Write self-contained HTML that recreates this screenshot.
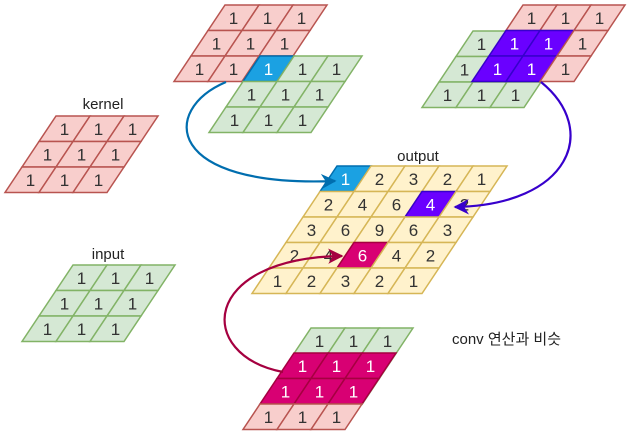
<!DOCTYPE html>
<html><head><meta charset="utf-8"><style>
html,body{margin:0;padding:0;background:#fff;}
svg{display:block;font-family:"Liberation Sans","Noto Sans CJK KR",sans-serif;}
</style></head><body>
<svg id="s" width="632" height="437" viewBox="0 0 632 437">
<defs>
<marker id="ab" viewBox="0 0 10 10" refX="9" refY="5" markerWidth="7" markerHeight="7" orient="auto"><path d="M0,0 L10,5 L0,10 L3,5 z" fill="#006EAF"/></marker>
<marker id="ap" viewBox="0 0 10 10" refX="9" refY="5" markerWidth="7" markerHeight="7" orient="auto"><path d="M0,0 L10,5 L0,10 L3,5 z" fill="#3700CC"/></marker>
<marker id="am" viewBox="0 0 10 10" refX="9" refY="5" markerWidth="7" markerHeight="7" orient="auto"><path d="M0,0 L10,5 L0,10 L3,5 z" fill="#A50040"/></marker>
</defs>
<g id="grids"></g>
<path d="M226,82 C160,110 165,188 335,181" fill="none" stroke="#006EAF" stroke-width="2.2" marker-end="url(#ab)"/>
<path d="M541,82 C600,130 570,205 455,207" fill="none" stroke="#3700CC" stroke-width="2.2" marker-end="url(#ap)"/>
<path d="M283,372 C195,355 200,258 342,256" fill="none" stroke="#A50040" stroke-width="2.2" marker-end="url(#am)"/>
<text x="103" y="109" font-size="15" text-anchor="middle" fill="#222">kernel</text>
<text x="108" y="259" font-size="15" text-anchor="middle" fill="#222">input</text>
<text x="418" y="161" font-size="15" text-anchor="middle" fill="#222">output</text>
<text x="452" y="344" font-size="15" fill="#222">conv 연산과 비슷</text>
</svg>
<script>
const outputValues = [[1,2,3,2,1],[2,4,6,4,2],[3,6,9,6,3],[2,4,6,4,2],[1,2,3,2,1]];
const kernelValues = [[1,1,1],[1,1,1],[1,1,1]];
const inputValues = [[1,1,1],[1,1,1],[1,1,1]];
const W=34,H=25.5,S=17;
const C={red:['#f8cecc','#b85450','#333'],green:['#d5e8d4','#82b366','#333'],yellow:['#fff2cc','#d6b656','#333'],
 blue:['#1ba1e2','#006EAF','#fff'],purple:['#6a00ff','#3700CC','#fff'],magenta:['#d80073','#A50040','#fff']};
const g=document.getElementById('grids');
const NS='http://www.w3.org/2000/svg';
function grid(name,ox,oy,vals,colorFn){
  const grp=document.createElementNS(NS,'g');
  
  
  vals.forEach((row,r)=>row.forEach((v,c)=>{
    const col=C[colorFn(r,c)];
    const x=ox+c*W-r*S,y=oy+r*H;
    const p=document.createElementNS(NS,'polygon');
    p.setAttribute('points',`${x},${y} ${x+W},${y} ${x+W-S},${y+H} ${x-S},${y+H}`);
    p.setAttribute('fill',col[0]);p.setAttribute('stroke',col[1]);p.setAttribute('stroke-width','1.5');
    
    
    grp.appendChild(p);
    const t=document.createElementNS(NS,'text');
    t.setAttribute('x',x+W/2-S/2);t.setAttribute('y',y+H/2+6);
    t.setAttribute('text-anchor','middle');t.setAttribute('font-size','17');t.setAttribute('fill',col[2]);
    t.textContent=v;
    
    
    grp.appendChild(t);
  }));
  g.appendChild(grp);
}
grid('kernel-grid',56,116,kernelValues,()=> 'red');
grid('input-grid',73,265,inputValues,()=> 'green');
grid('step1-kernel',225,5,kernelValues,()=> 'red');
grid('step1-input',260,56,inputValues,(r,c)=> (r==0&&c==0)?'blue':'green');
grid('step2-input',473,31,inputValues,()=> 'green');
grid('step2-kernel',523,5,kernelValues,(r,c)=> (r>=1&&c<2)?'purple':'red');
grid('step3-input',311,328,inputValues,()=> 'green');
grid('step3-kernel',294,353,kernelValues,(r)=> r<2?'magenta':'red');
grid('output-grid',337,166,outputValues,(r,c)=> (r==0&&c==0)?'blue':(r==1&&c==3)?'purple':(r==3&&c==2)?'magenta':'yellow');
</script>
</body></html>
